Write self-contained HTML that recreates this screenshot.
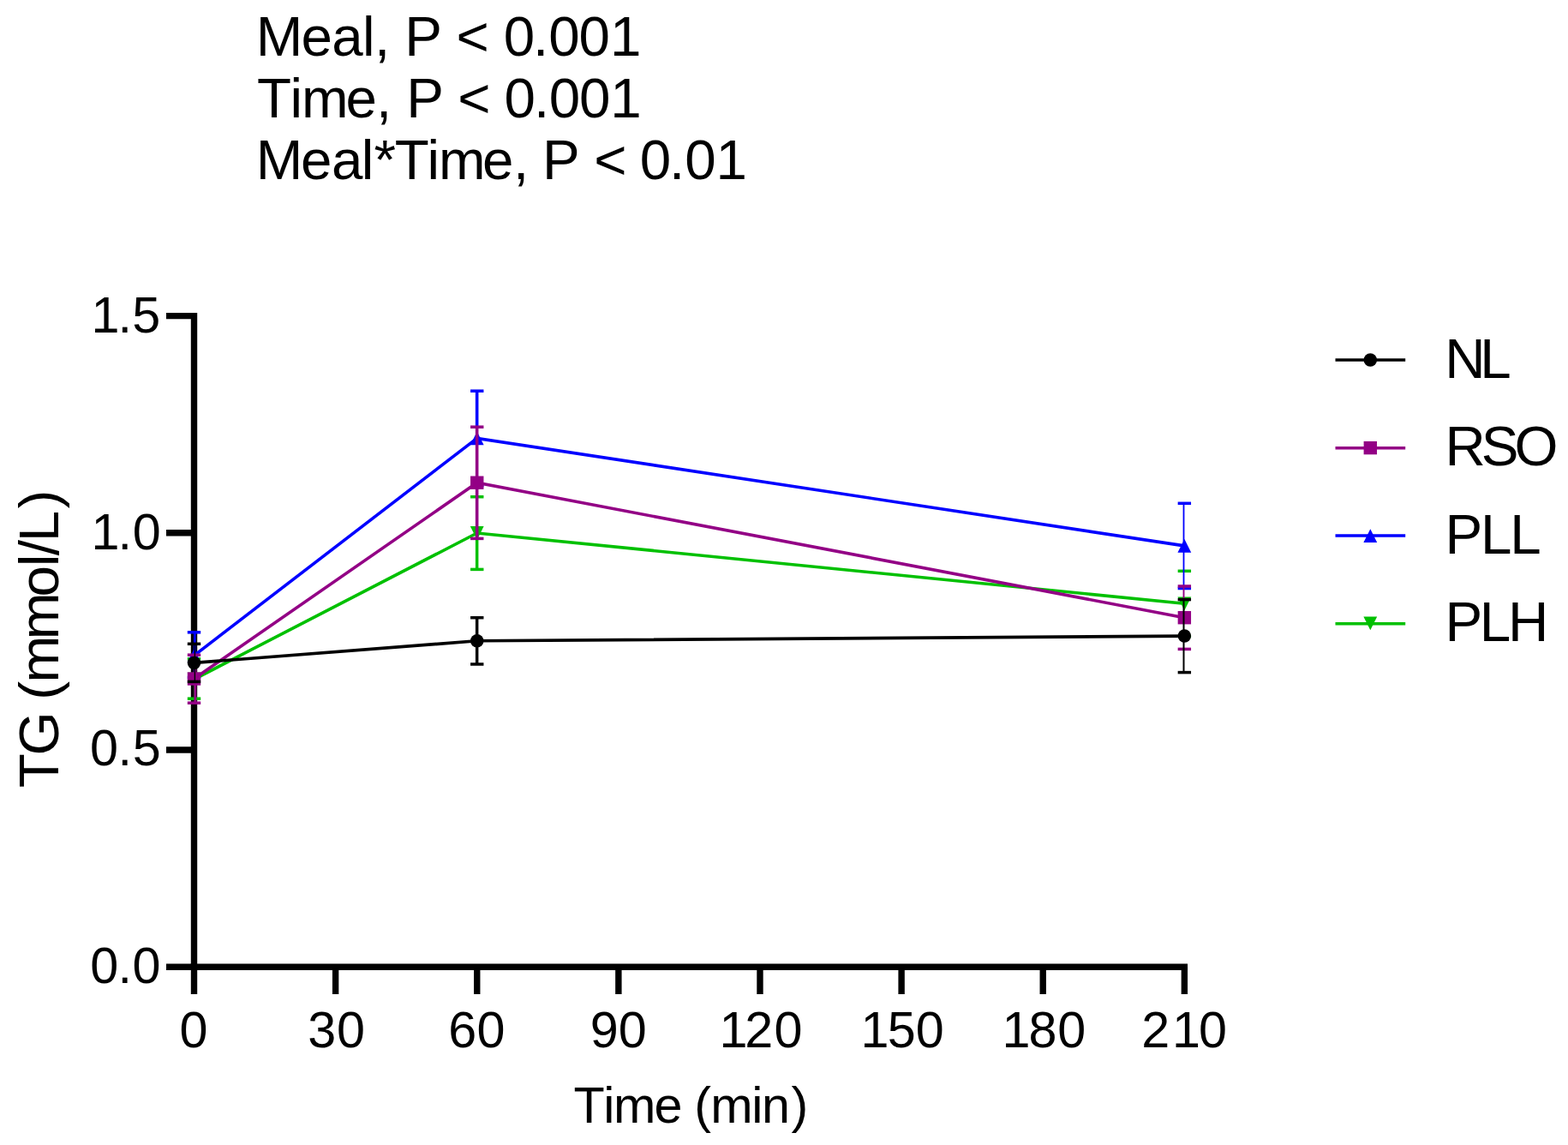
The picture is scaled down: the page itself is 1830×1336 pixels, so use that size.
<!DOCTYPE html>
<html><head><meta charset="utf-8"><style>
html,body{margin:0;padding:0;background:#fff;}
svg{display:block;}
text{font-family:"Liberation Sans",Arial,sans-serif;fill:#000;}
</style></head><body>
<svg width="1830" height="1336" viewBox="0 0 1830 1336">
<g stroke="#000" stroke-width="7.4" fill="none" stroke-linecap="butt">
<line x1="226.50" y1="364.90" x2="226.50" y2="1131.90"/>
<line x1="222.80" y1="1128.20" x2="1386.05" y2="1128.20"/>
<line x1="194" y1="1128.20" x2="226.50" y2="1128.20"/>
<line x1="194" y1="875.00" x2="226.50" y2="875.00"/>
<line x1="194" y1="621.80" x2="226.50" y2="621.80"/>
<line x1="194" y1="368.60" x2="226.50" y2="368.60"/>
<line x1="226.50" y1="1128.20" x2="226.50" y2="1160"/>
<line x1="391.62" y1="1128.20" x2="391.62" y2="1160"/>
<line x1="556.74" y1="1128.20" x2="556.74" y2="1160"/>
<line x1="721.86" y1="1128.20" x2="721.86" y2="1160"/>
<line x1="886.99" y1="1128.20" x2="886.99" y2="1160"/>
<line x1="1052.11" y1="1128.20" x2="1052.11" y2="1160"/>
<line x1="1217.23" y1="1128.20" x2="1217.23" y2="1160"/>
<line x1="1382.35" y1="1128.20" x2="1382.35" y2="1160"/>
</g>
<g><line x1="227.60" y1="768.80" x2="227.60" y2="815.20" stroke="#00c000" stroke-width="2.8"/><line x1="218.80" y1="768.80" x2="234.20" y2="768.80" stroke="#00c000" stroke-width="3.5"/><line x1="218.80" y1="815.20" x2="234.20" y2="815.20" stroke="#00c000" stroke-width="3.5"/><line x1="556.65" y1="627.90" x2="556.65" y2="664.40" stroke="#00c000" stroke-width="3.5"/><line x1="549.04" y1="579.70" x2="564.44" y2="579.70" stroke="#00c000" stroke-width="3.5"/><line x1="549.04" y1="664.40" x2="564.44" y2="664.40" stroke="#00c000" stroke-width="3.5"/><line x1="1374.65" y1="666.30" x2="1390.05" y2="666.30" stroke="#00c000" stroke-width="3.5"/><line x1="1374.65" y1="742.30" x2="1390.05" y2="742.30" stroke="#00c000" stroke-width="3.5"/><polyline points="226.50,792.60 556.74,622.00 1382.35,704.30" fill="none" stroke="#00c000" stroke-width="3.6" stroke-linejoin="miter"/><polygon points="218.60,784.70 234.40,784.70 226.50,800.50" fill="#00c000"/><polygon points="548.84,614.10 564.64,614.10 556.74,629.90" fill="#00c000"/><polygon points="1374.45,696.40 1390.25,696.40 1382.35,712.20" fill="#00c000"/></g>
<g><line x1="227.30" y1="737.80" x2="227.30" y2="790.50" stroke="#0000ff" stroke-width="2.8"/><line x1="218.80" y1="737.80" x2="234.20" y2="737.80" stroke="#0000ff" stroke-width="3.5"/><line x1="218.80" y1="790.50" x2="234.20" y2="790.50" stroke="#0000ff" stroke-width="3.5"/><line x1="556.65" y1="456.20" x2="556.65" y2="498.70" stroke="#0000ff" stroke-width="3.6"/><line x1="549.04" y1="456.20" x2="564.44" y2="456.20" stroke="#0000ff" stroke-width="3.5"/><line x1="549.04" y1="566.60" x2="564.44" y2="566.60" stroke="#0000ff" stroke-width="3.5"/><line x1="1381.50" y1="587.30" x2="1381.50" y2="684.50" stroke="#0000ff" stroke-width="1.8"/><line x1="1374.65" y1="587.30" x2="1390.05" y2="587.30" stroke="#0000ff" stroke-width="3.5"/><line x1="1374.65" y1="686.50" x2="1390.05" y2="686.50" stroke="#0000ff" stroke-width="3.5"/><polyline points="226.50,764.90 556.74,511.40 1382.35,636.90" fill="none" stroke="#0000ff" stroke-width="3.6" stroke-linejoin="miter"/><polygon points="226.50,757.00 234.40,772.80 218.60,772.80" fill="#0000ff"/><polygon points="556.74,503.50 564.64,519.30 548.84,519.30" fill="#0000ff"/><polygon points="1382.35,629.00 1390.25,644.80 1374.45,644.80" fill="#0000ff"/></g>
<g><line x1="227.85" y1="764.20" x2="227.85" y2="820.20" stroke="#930085" stroke-width="3.0"/><line x1="218.80" y1="764.20" x2="234.20" y2="764.20" stroke="#930085" stroke-width="3.5"/><line x1="218.80" y1="820.20" x2="234.20" y2="820.20" stroke="#930085" stroke-width="3.5"/><line x1="556.65" y1="498.20" x2="556.65" y2="628.40" stroke="#930085" stroke-width="3.6"/><line x1="549.04" y1="498.20" x2="564.44" y2="498.20" stroke="#930085" stroke-width="3.5"/><line x1="549.04" y1="628.40" x2="564.44" y2="628.40" stroke="#930085" stroke-width="3.5"/><line x1="1381.50" y1="684.00" x2="1381.50" y2="700.10" stroke="#930085" stroke-width="1.9"/><line x1="1374.65" y1="684.00" x2="1390.05" y2="684.00" stroke="#930085" stroke-width="3.5"/><line x1="1374.65" y1="757.40" x2="1390.05" y2="757.40" stroke="#930085" stroke-width="3.5"/><polyline points="226.50,792.00 556.74,563.20 1382.35,720.70" fill="none" stroke="#930085" stroke-width="3.6" stroke-linejoin="miter"/><rect x="218.80" y="784.30" width="15.40" height="15.40" fill="#930085"/><rect x="549.04" y="555.50" width="15.40" height="15.40" fill="#930085"/><rect x="1374.65" y="713.00" width="15.40" height="15.40" fill="#930085"/></g>
<g><line x1="227.40" y1="751.30" x2="227.40" y2="795.40" stroke="#000000" stroke-width="1.4"/><line x1="218.80" y1="751.30" x2="234.20" y2="751.30" stroke="#000000" stroke-width="3.5"/><line x1="218.80" y1="795.40" x2="234.20" y2="795.40" stroke="#000000" stroke-width="3.5"/><line x1="556.65" y1="720.70" x2="556.65" y2="775.00" stroke="#000000" stroke-width="3.5"/><line x1="549.04" y1="720.70" x2="564.44" y2="720.70" stroke="#000000" stroke-width="3.5"/><line x1="549.04" y1="775.00" x2="564.44" y2="775.00" stroke="#000000" stroke-width="3.5"/><line x1="1381.50" y1="699.60" x2="1381.50" y2="784.60" stroke="#000000" stroke-width="2.0"/><line x1="1374.65" y1="699.60" x2="1390.05" y2="699.60" stroke="#000000" stroke-width="3.5"/><line x1="1374.65" y1="784.60" x2="1390.05" y2="784.60" stroke="#000000" stroke-width="3.5"/><polyline points="226.50,773.40 556.74,747.80 1382.35,742.10" fill="none" stroke="#000000" stroke-width="3.6" stroke-linejoin="miter"/><circle cx="226.50" cy="773.40" r="7.75" fill="#000000"/><circle cx="556.74" cy="747.80" r="7.75" fill="#000000"/><circle cx="1382.35" cy="742.10" r="7.75" fill="#000000"/></g>
<line x1="1558.5" y1="419.9" x2="1640.2" y2="419.9" stroke="#000000" stroke-width="3.5"/>
<circle cx="1599.30" cy="420.00" r="7.75" fill="#000000"/>
<text x="1686.33 1727.33" y="440.5" font-size="65.5">NL</text>
<line x1="1558.5" y1="522.67" x2="1640.2" y2="522.67" stroke="#930085" stroke-width="3.5"/>
<rect x="1591.60" y="514.90" width="15.40" height="15.40" fill="#930085"/>
<text x="1686.53 1728.83 1767.50" y="543.3" font-size="65.5">RSO</text>
<line x1="1558.5" y1="624.97" x2="1640.2" y2="624.97" stroke="#0000ff" stroke-width="3.5"/>
<polygon points="1599.30,617.30 1607.20,633.10 1591.40,633.10" fill="#0000ff"/>
<text x="1686.53 1727.93 1762.13" y="645.7" font-size="65.5">PLL</text>
<line x1="1558.5" y1="727.75" x2="1640.2" y2="727.75" stroke="#00c000" stroke-width="3.5"/>
<polygon points="1591.40,719.55 1607.20,719.55 1599.30,735.35" fill="#00c000"/>
<text x="1686.53 1726.63 1760.03" y="747.9" font-size="65.5">PLH</text>
<text x="106.48 137.39 154.33" y="387.5" font-size="59.3">1.5</text>
<text x="106.58 137.39 154.68" y="640.5" font-size="59.3">1.0</text>
<text x="104.98 137.39 154.63" y="893.4" font-size="59.3">0.5</text>
<text x="105.33 137.49 154.48" y="1146.7" font-size="59.3">0.0</text>
<text x="209.58" y="1221.9" font-size="59.3">0</text>
<text x="359.24 393.08" y="1221.9" font-size="59.3">30</text>
<text x="523.29 556.58" y="1221.9" font-size="59.3">60</text>
<text x="688.72 721.78" y="1221.9" font-size="59.3">90</text>
<text x="839.58 869.22 903.38" y="1221.9" font-size="59.3">120</text>
<text x="1004.48 1035.73 1068.68" y="1221.9" font-size="59.3">150</text>
<text x="1169.58 1200.52 1234.18" y="1221.9" font-size="59.3">180</text>
<text x="1332.22 1367.88 1399.08" y="1221.9" font-size="59.3">210</text>
<text x="669.47 704.33 715.96 763.38 796.36 810.32 829.16 877.13 889.06 923.55" y="1309.6" font-size="59.3">Time (min)</text>
<text x="-919.28 -881.60 -830.50 -816.67 -796.56 -746.36 -696.56 -661.33 -648.30 -632.19 -593.58" y="0" font-size="65.7" transform="translate(68.3,0) rotate(-90)">TG (mmol/L)</text>
<text x="298.68 351.52 387.32 423.09 437.12 455.31 472.13 515.81 532.47 570.72 587.64 622.12 640.34 675.54 712.11" y="64.8" font-size="65.5">Meal, P &lt; 0.001</text>
<text x="300.03 338.42 351.95 403.42 438.92 457.11 474.13 517.81 534.17 572.42 588.44 623.12 640.84 676.04 712.31" y="137.0" font-size="65.5">Time, P &lt; 0.001</text>
<text x="298.63 350.92 387.02 421.69 436.54 460.73 498.52 511.95 562.92 599.02 617.21 632.93 676.61 693.17 731.42 746.84 781.02 799.34 835.41" y="209.1" font-size="65.5">Meal*Time, P &lt; 0.01</text>
</svg>
</body></html>
